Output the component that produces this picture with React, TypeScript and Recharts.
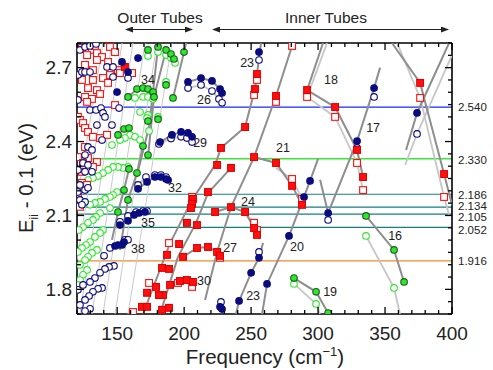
import { ScatterChart, Scatter, XAxis, YAxis, ReferenceLine } from "recharts";

type P = [number, number];

const FONT = "'Liberation Sans', Arial, Helvetica, sans-serif";

// axis ticks
const xTicks = [120, 130, 140, 150, 160, 170, 180, 190, 200, 210, 220, 230, 240, 250, 260, 270, 280, 290, 300, 310, 320, 330, 340, 350, 360, 370, 380, 390, 400];
const xLabels = [150, 200, 250, 300, 350, 400];
const yTicksLeft = [1.7, 1.8, 1.9, 2.0, 2.1, 2.2, 2.3, 2.4, 2.5, 2.6, 2.7, 2.8];
const yTicksRight = [1.7, 1.75, 1.8, 1.85, 1.9, 1.95, 2.0, 2.05, 2.1, 2.15, 2.2, 2.25, 2.3, 2.35, 2.4, 2.45, 2.5, 2.55, 2.6, 2.65, 2.7, 2.75, 2.8];
const yLabels = [1.8, 2.1, 2.4, 2.7];

// laser energies (horizontal lines)
const laserEnergies = [2.54, 2.33, 2.186, 2.134, 2.105, 2.052, 1.916];

// markers: [frequency, energy]
const blueFilled: P[] = [
  [153.6, 2.723], [165.6, 2.739], [158.1, 2.682], [149.9, 2.601], [255.9, 2.763],
  [202.9, 2.642], [212.6, 2.658], [220.8, 2.646], [226.8, 2.613], [228.3, 2.597],
  [182.0, 2.398], [190.9, 2.427], [197.7, 2.439], [202.9, 2.435], [205.9, 2.419],
  [165.6, 2.208], [172.3, 2.236], [178.2, 2.256], [182.7, 2.256], [186.5, 2.248], [188.0, 2.244],
  [152.1, 2.061], [158.1, 2.078], [162.6, 2.102], [166.3, 2.11], [170.8, 2.114],
  [148.4, 1.976], [150.6, 1.98], [153.6, 1.98], [155.1, 1.992],
  [255.9, 1.928], [250.0, 1.867], [241.0, 1.753], [226.8, 1.729], [228.3, 1.72], [261.9, 1.822],
  [278.3, 2.017], [289.5, 2.175], [294.0, 2.24],
  [307.5, 2.11], [329.1, 2.402], [341.8, 2.617], [373.9, 2.516],
];

const blueOpen: P[] = [
  [202.9, 2.617], [212.6, 2.63], [220.8, 2.605], [226.0, 2.573], [228.3, 2.557],
  [181.2, 2.39], [190.2, 2.412], [197.7, 2.419], [202.1, 2.414], [205.9, 2.398],
  [165.6, 2.224], [171.5, 2.256], [178.2, 2.264], [182.7, 2.264], [186.5, 2.256],
  [152.1, 2.074], [158.1, 2.098], [164.1, 2.114], [169.3, 2.118], [172.3, 2.118],
  [144.6, 1.968], [155.8, 2.001], [158.1, 2.001],
  [255.9, 2.731], [255.9, 1.952], [227.5, 1.749],
  [307.5, 2.082], [329.1, 2.374], [341.8, 2.581], [373.9, 2.431],
  [122.2, 2.772], [126.0, 2.784], [129.7, 2.788], [134.2, 2.796],
  [120.7, 2.67], [123.7, 2.682], [126.0, 2.682], [129.7, 2.682],
  [142.4, 2.703], [146.9, 2.703], [146.9, 2.662], [158.1, 2.658],
  [120.7, 2.569], [129.7, 2.528], [134.2, 2.528], [137.9, 2.536], [139.4, 2.516], [140.9, 2.5],
  [146.1, 2.467], [134.9, 2.467], [151.4, 2.536],
  [128.2, 2.378], [131.2, 2.366], [126.0, 2.345], [138.7, 2.406], [124.5, 2.313], [128.2, 2.305],
  [120.7, 2.285], [126.0, 2.277], [131.2, 2.277],
  [122.2, 2.224], [126.0, 2.203], [128.2, 2.212], [120.7, 2.195], [122.2, 2.163], [126.0, 2.155], [123.7, 2.143],
  [140.2, 1.936], [147.6, 1.895], [143.9, 1.891], [140.9, 1.883], [137.2, 1.867], [133.4, 1.846], [129.7, 1.83],
  [138.7, 1.806], [135.7, 1.802], [131.9, 1.79], [129.0, 1.773], [126.0, 1.757], [122.2, 1.737],
  [129.7, 1.721], [126.0, 1.712], [120.7, 1.798], [124.5, 1.818],
];

const redFilled: P[] = [
  [155.8, 2.703], [254.4, 2.674], [252.9, 2.613], [245.5, 2.459], [227.5, 2.374], [224.6, 2.305],
  [235.0, 2.293], [252.2, 2.337], [268.6, 2.585], [291.8, 2.609], [312.7, 2.54], [329.1, 2.366],
  [333.6, 2.256], [376.2, 2.638], [394.1, 2.268],
  [268.6, 2.313], [280.6, 2.22], [288.0, 2.143],
  [217.8, 2.195], [206.6, 2.167], [205.9, 2.147], [205.1, 2.13], [202.1, 2.07], [209.6, 2.061],
  [196.2, 1.984], [199.2, 1.932], [187.2, 1.94], [183.5, 1.887], [188.7, 1.883], [184.2, 1.777],
  [183.5, 1.717], [188.7, 1.725], [179.0, 1.81], [172.3, 1.786], [181.2, 1.777], [168.5, 1.729], [172.3, 1.729],
  [209.6, 1.968], [217.8, 1.972], [224.6, 1.952], [226.8, 1.936],
  [189.5, 1.818], [196.9, 1.834], [202.1, 1.838], [206.6, 1.83],
  [223.1, 2.114], [235.0, 2.134], [245.5, 2.114], [252.2, 2.049], [254.4, 2.021],
];

const redOpen: P[] = [
  [123.7, 2.78], [131.2, 2.772], [133.4, 2.788], [134.9, 2.759], [138.7, 2.743], [127.5, 2.751],
  [144.6, 2.784], [148.4, 2.763], [143.2, 2.723], [134.9, 2.731], [131.9, 2.69], [126.0, 2.711],
  [150.6, 2.69], [152.1, 2.678], [161.1, 2.678], [144.6, 2.67], [139.4, 2.658], [131.9, 2.65],
  [123.7, 2.65], [143.2, 2.638], [128.2, 2.617], [134.9, 2.609], [137.2, 2.593], [126.0, 2.581],
  [131.2, 2.573], [127.5, 2.561], [148.4, 2.548], [120.7, 2.5], [122.2, 2.488], [124.5, 2.475],
  [126.0, 2.455], [128.2, 2.439], [131.9, 2.419], [137.2, 2.414], [142.4, 2.427], [126.0, 2.378],
  [120.7, 2.337], [128.2, 2.333], [134.9, 2.317], [124.5, 2.313], [131.9, 2.297], [123.7, 2.277],
  [123.7, 2.232], [127.5, 2.224], [120.7, 2.175], [122.2, 2.135],
  [254.4, 2.65], [252.2, 2.589], [280.6, 2.788], [268.6, 2.561], [291.8, 2.581], [312.7, 2.5],
  [329.1, 2.313], [333.6, 2.203], [376.2, 2.577], [394.1, 2.175], [280.6, 2.248], [288.0, 2.167],
  [252.2, 2.07], [254.4, 2.041], [226.8, 1.928], [195.4, 1.826], [205.9, 1.81],
  [188.7, 1.988], [205.9, 2.175], [173.8, 1.826], [161.8, 1.708],
];

const greenFilled: P[] = [
  [173.0, 2.772], [180.5, 2.784], [186.5, 2.772], [190.2, 2.755], [192.4, 2.735], [199.9, 2.763],
  [158.1, 2.581], [164.8, 2.613], [169.3, 2.617], [173.0, 2.613], [176.8, 2.601], [177.5, 2.581],
  [186.5, 2.63], [191.7, 2.577], [173.0, 2.483], [180.5, 2.491],
  [150.6, 2.427], [155.1, 2.451], [158.8, 2.455], [169.3, 2.382], [173.0, 2.345], [158.8, 2.289], [164.8, 2.272],
  [155.1, 2.203], [158.1, 2.163], [150.6, 2.114],
  [335.8, 2.098], [356.7, 1.96], [364.2, 1.83],
  [282.0, 1.846], [298.5, 1.79], [307.5, 1.704],
];

const greenOpen: P[] = [
  [173.0, 2.747], [180.5, 2.763], [186.5, 2.751], [190.2, 2.739], [193.2, 2.719],
  [163.3, 2.577], [169.3, 2.581], [173.0, 2.581], [176.8, 2.573], [186.5, 2.642],
  [173.0, 2.508], [180.5, 2.5], [173.8, 2.443], [167.1, 2.52], [172.3, 2.496],
  [146.1, 2.386], [159.6, 2.427], [163.3, 2.419], [167.1, 2.406], [155.8, 2.414], [152.1, 2.406],
  [158.1, 2.297], [154.4, 2.293], [150.6, 2.297], [146.9, 2.297], [143.2, 2.285], [139.4, 2.272],
  [135.7, 2.26], [131.9, 2.252], [128.2, 2.244],
  [149.9, 2.195], [146.9, 2.183], [144.6, 2.175], [140.9, 2.167], [137.2, 2.155], [133.4, 2.151], [129.7, 2.143],
  [144.6, 2.13], [137.2, 2.11], [134.2, 2.094], [131.9, 2.082], [128.2, 2.07], [124.5, 2.053], [121.4, 2.041],
  [139.4, 2.041], [137.2, 2.029], [133.4, 2.013], [129.7, 1.992], [126.7, 1.98], [123.7, 1.968], [120.7, 1.952],
  [134.9, 1.96], [131.2, 1.948], [128.2, 1.932], [126.0, 1.919], [122.2, 1.899],
  [127.5, 1.879], [124.5, 1.859], [122.2, 1.838], [120.7, 1.818],
  [335.8, 2.017], [356.7, 1.806], [282.0, 1.822], [298.5, 1.741],
];

// guide lines through each family
const darkLines: P[][] = [
  [[169.3, 1.7], [189.5, 1.988], [205.9, 2.163], [223.1, 2.305], [227.5, 2.374], [245.5, 2.459], [252.9, 2.613], [257.4, 2.8]],
  [[182.0, 1.7], [195.4, 1.932], [208.9, 2.07], [217.8, 2.191], [235.0, 2.293]],
  [[215.6, 1.757], [224.6, 1.952], [235.0, 2.134], [252.2, 2.337], [268.6, 2.585], [281.3, 2.8]],
  [[258.2, 1.7], [261.9, 1.822], [278.3, 2.017], [289.5, 2.175], [294.0, 2.24], [300.0, 2.33]],
  [[301.5, 2.245], [307.5, 2.11], [329.1, 2.402], [341.8, 2.617], [346.3, 2.7]],
  [[355.2, 2.8], [376.2, 2.638], [394.1, 2.268], [400, 2.143]],
  [[397.8, 2.8], [373.9, 2.516], [365.7, 2.366]],
  [[303.7, 2.8], [291.8, 2.609], [312.7, 2.54], [329.1, 2.366], [333.6, 2.256]],
  [[252.2, 2.337], [268.6, 2.313], [280.6, 2.22], [288.0, 2.143]],
  [[223.1, 2.114], [235.0, 2.134], [245.5, 2.114], [252.2, 2.049], [254.4, 2.021]],
  [[199.2, 1.932], [209.6, 1.968], [217.8, 1.972], [224.6, 1.952], [226.8, 1.936]],
  [[189.5, 1.818], [196.9, 1.834], [202.1, 1.838], [206.6, 1.83]],
  [[202.9, 2.642], [212.6, 2.658], [220.8, 2.646], [226.8, 2.613], [228.3, 2.597]],
  [[182.0, 2.398], [190.9, 2.427], [197.7, 2.439], [202.9, 2.435], [205.9, 2.419]],
  [[165.6, 2.208], [172.3, 2.236], [178.2, 2.256], [182.7, 2.256], [186.5, 2.248], [188.0, 2.244]],
  [[152.1, 2.061], [158.1, 2.078], [162.6, 2.102], [166.3, 2.11], [170.8, 2.114]],
  [[148.4, 1.976], [150.6, 1.98], [153.6, 1.98], [155.1, 1.992]],
  [[158.1, 2.581], [164.8, 2.613], [169.3, 2.617], [173.0, 2.613], [176.8, 2.601], [177.5, 2.581]],
  [[164.8, 2.264], [173.8, 2.459], [180.5, 2.784]],
  [[173.0, 2.337], [177.5, 2.581], [186.5, 2.772]],
  [[191.7, 2.577], [199.9, 2.763], [201.4, 2.8]],
  [[146.1, 2.001], [150.6, 2.114], [155.1, 2.203], [158.8, 2.289]],
  [[152.1, 1.96], [158.1, 2.163], [164.8, 2.272], [169.3, 2.382]],
  [[335.8, 2.098], [356.7, 1.96], [364.2, 1.83]],
  [[282.0, 1.846], [298.5, 1.79], [307.5, 1.704]],
  [[238.7, 1.7], [241.0, 1.753], [250.0, 1.867], [255.9, 1.928], [258.9, 1.988]],
];

const lightLines: P[][] = [
  [[359.0, 2.8], [376.2, 2.577], [394.1, 2.175], [397.8, 2.102]],
  [[400, 2.751], [373.9, 2.431], [365.0, 2.305]],
  [[306.7, 2.8], [291.8, 2.581], [312.7, 2.5], [329.1, 2.313], [333.6, 2.203]],
  [[268.6, 2.293], [280.6, 2.248], [288.0, 2.167]],
  [[245.5, 2.11], [252.2, 2.07], [254.4, 2.041]],
  [[202.9, 2.617], [212.6, 2.63], [220.8, 2.605], [226.0, 2.573], [228.3, 2.557]],
  [[181.2, 2.39], [190.2, 2.412], [197.7, 2.419], [202.1, 2.414], [205.9, 2.398]],
  [[165.6, 2.224], [171.5, 2.256], [178.2, 2.264], [182.7, 2.264], [186.5, 2.256]],
  [[152.1, 2.074], [158.1, 2.098], [164.1, 2.114], [169.3, 2.118], [172.3, 2.118]],
  [[163.3, 2.577], [169.3, 2.581], [173.0, 2.581], [176.8, 2.573]],
  [[335.8, 2.017], [356.7, 1.806], [361.2, 1.7]],
  [[282.0, 1.822], [298.5, 1.741], [301.5, 1.7]],
];

const thinLines: P[][] = [
  [[120, 2.163], [139.4, 2.8]],
  [[120, 1.919], [146.1, 2.8]],
  [[122.2, 1.7], [153.6, 2.8]],
  [[131.2, 1.7], [161.8, 2.8]],
  [[139.4, 1.7], [170.8, 2.8]],
  [[148.4, 1.7], [179.7, 2.8]],
  [[158.1, 1.7], [190.9, 2.8]],
];

// family index labels
const familyNames = ["34", "26", "29", "32", "35", "38", "23", "23", "27", "30", "24", "21", "18", "17", "20", "16", "19"];
const familyPos: P[] = [
  [173.0, 2.65], [214.8, 2.569], [211.9, 2.398], [193.2, 2.212], [173.0, 2.07], [165.6, 1.964],
  [247.0, 2.719], [251.5, 1.777], [234.3, 1.968], [214.8, 1.834], [247.7, 2.155], [273.8, 2.374],
  [309.7, 2.65], [341.1, 2.455], [284.3, 1.976], [357.5, 2.017], [309.0, 1.79],
];

const NAVY = "#0b0b80";
const RED = "#ff1010";
const GREEN = "#2ee62e";
const laserColors = ["#1428ff", "#39e639", "#13807e", "#13807e", "#13807e", "#13807e", "#f08a2c"];
const laserDy = [0, 1.5, 0.8, -1.4, 3.2, 3.0, 0.8];

const toPts = (arr: P[]) => arr.map(([f, e]) => ({ f, e }));
const isMajorY = (v: number) => yLabels.some((l) => Math.abs(l - v) < 1e-6);
const noShape = () => <g />;

const circle = (fill: string, stroke: string) => (p: any) => (
  <circle cx={p.cx} cy={p.cy} r={3.3} fill={fill} stroke={stroke} strokeWidth={1.1} />
);
const square = (fill: string, stroke: string) => (p: any) => (
  <rect x={p.cx - 3.4} y={p.cy - 3.4} width={6.8} height={6.8} fill={fill} stroke={stroke} strokeWidth={1.1} />
);

const BottomTick = (p: any) => {
  const major = xLabels.includes(p.payload.value);
  return (
    <g>
      <line x1={p.x} x2={p.x} y1={p.y} y2={p.y - (major ? 7 : 4)} stroke="#000" strokeWidth={1.3} />
      {major && (
        <text x={p.x} y={p.y + 26} textAnchor="middle" fontSize={19} fill="#222" fontFamily={FONT}>
          {p.payload.value}
        </text>
      )}
    </g>
  );
};

const TopTick = (p: any) => {
  const major = xLabels.includes(p.payload.value);
  return <line x1={p.x} x2={p.x} y1={p.y} y2={p.y + (major ? 7 : 4)} stroke="#000" strokeWidth={1.3} />;
};

const LeftTick = (p: any) => {
  const major = isMajorY(p.payload.value);
  return (
    <g>
      <line x1={p.x} x2={p.x + (major ? 7 : 4)} y1={p.y} y2={p.y} stroke="#000" strokeWidth={1.3} />
      {major && (
        <text x={p.x - 5} y={p.y} dy="0.36em" textAnchor="end" fontSize={19} fill="#222" fontFamily={FONT}>
          {p.payload.value.toFixed(1)}
        </text>
      )}
    </g>
  );
};

const RightTick = (p: any) => {
  const major = isMajorY(p.payload.value);
  return <line x1={p.x} x2={p.x - (major ? 7 : 4)} y1={p.y} y2={p.y} stroke="#000" strokeWidth={1.3} />;
};

const FamilyLabel = (p: any) => (
  <text x={p.cx} y={p.cy} dy="0.36em" textAnchor="middle" fontSize={12.5} fill="#222" fontFamily={FONT}>
    {p.payload.name}
  </text>
);

const axisLine = { stroke: "#000", strokeWidth: 1.6 };
const ids = { xAxisId: "b", yAxisId: "l" };

export default function App() {
  const labels = familyPos.map(([f, e], i) => ({ f, e, name: familyNames[i] }));
  return (
    <div style={{ position: "absolute", left: 0, top: 0, width: 493, height: 370, background: "#fff", fontFamily: FONT }}>
      <ScatterChart width={493} height={370} margin={{ top: 33, right: 31, bottom: 26, left: 37 }}>
        <XAxis xAxisId="b" dataKey="f" type="number" domain={[120, 400]} allowDataOverflow ticks={xTicks} interval={0}
          height={30} tickSize={0} tickMargin={0} tickLine={false} axisLine={axisLine} tick={(p: any) => <BottomTick {...p} />} />
        <XAxis xAxisId="t" orientation="top" dataKey="f" type="number" domain={[120, 400]} allowDataOverflow ticks={xTicks} interval={0}
          height={10} tickSize={0} tickMargin={0} tickLine={false} axisLine={axisLine} tick={(p: any) => <TopTick {...p} />} />
        <YAxis yAxisId="l" dataKey="e" type="number" domain={[1.7, 2.8]} allowDataOverflow ticks={yTicksLeft} interval={0}
          width={40} tickSize={0} tickMargin={0} tickLine={false} axisLine={axisLine} tick={(p: any) => <LeftTick {...p} />} />
        <YAxis yAxisId="r" orientation="right" dataKey="e" type="number" domain={[1.7, 2.8]} allowDataOverflow ticks={yTicksRight} interval={0}
          width={10} tickSize={0} tickMargin={0} tickLine={false} axisLine={axisLine} tick={(p: any) => <RightTick {...p} />} />

        {laserEnergies.map((v, i) => (
          <ReferenceLine key={"rl" + i} {...ids} y={v} stroke={laserColors[i]} strokeWidth={i === 1 ? 1.6 : 1.2}
            label={(lp: any) => (
              <text x={lp.viewBox.x + lp.viewBox.width + 6} y={lp.viewBox.y + laserDy[i]} dy="0.34em" fontSize={11.5} fill="#222" fontFamily={FONT}>
                {v.toFixed(3)}
              </text>
            )} />
        ))}

        {thinLines.map((l, i) => (
          <Scatter key={"tl" + i} {...ids} data={toPts(l)} line={{ stroke: "#c9c9c9", strokeWidth: 1 }} shape={noShape} isAnimationActive={false} />
        ))}
        {lightLines.map((l, i) => (
          <Scatter key={"ll" + i} {...ids} data={toPts(l)} line={{ stroke: "#c6c6c6", strokeWidth: 1.8 }} shape={noShape} isAnimationActive={false} />
        ))}
        {darkLines.map((l, i) => (
          <Scatter key={"dl" + i} {...ids} data={toPts(l)} line={{ stroke: "#8e8e8e", strokeWidth: 2 }} shape={noShape} isAnimationActive={false} />
        ))}

        <Scatter {...ids} data={toPts(greenOpen)} shape={circle("#fff", GREEN)} isAnimationActive={false} />
        <Scatter {...ids} data={toPts(redOpen)} shape={square("#fff", RED)} isAnimationActive={false} />
        <Scatter {...ids} data={toPts(blueOpen)} shape={circle("#fff", NAVY)} isAnimationActive={false} />
        <Scatter {...ids} data={toPts(greenFilled)} shape={circle(GREEN, "#1d5c1d")} isAnimationActive={false} />
        <Scatter {...ids} data={toPts(redFilled)} shape={square(RED, "#e00000")} isAnimationActive={false} />
        <Scatter {...ids} data={toPts(blueFilled)} shape={circle(NAVY, NAVY)} isAnimationActive={false} />
        <Scatter {...ids} data={labels} shape={FamilyLabel} isAnimationActive={false} />
      </ScatterChart>

      <svg width={493} height={370} style={{ position: "absolute", left: 0, top: 0, pointerEvents: "none" }}>
        <defs>
          <marker id="ah" markerWidth="8" markerHeight="6" refX="7" refY="3" orient="auto-start-reverse" markerUnits="userSpaceOnUse">
            <path d="M0,0 L8,3 L0,6 Z" fill="#222" />
          </marker>
        </defs>
        <text x={160} y={22.5} textAnchor="middle" fontSize={15.5} fill="#222" fontFamily={FONT}>Outer Tubes</text>
        <line x1={126} x2={192} y1={29.5} y2={29.5} stroke="#222" strokeWidth={1.2} markerStart="url(#ah)" markerEnd="url(#ah)" />
        <text x={326} y={22.5} textAnchor="middle" fontSize={15.5} fill="#222" fontFamily={FONT}>Inner Tubes</text>
        <line x1={213} x2={448} y1={29.5} y2={29.5} stroke="#222" strokeWidth={1.2} markerStart="url(#ah)" markerEnd="url(#ah)" />
        <text x={265} y={364} textAnchor="middle" fontSize={20.5} fill="#222" fontFamily={FONT}>
          Frequency (cm
          <tspan dy={-8} fontSize={13}>−1</tspan>
          <tspan dy={8}>)</tspan>
        </text>
        <text transform="translate(33,178) rotate(-90)" textAnchor="middle" fontSize={20.5} fill="#222" fontFamily={FONT}>
          E<tspan dy={5} fontSize={12}>ii</tspan>
          <tspan dy={-5}> - 0.1 (eV)</tspan>
        </text>
      </svg>
    </div>
  );
}
